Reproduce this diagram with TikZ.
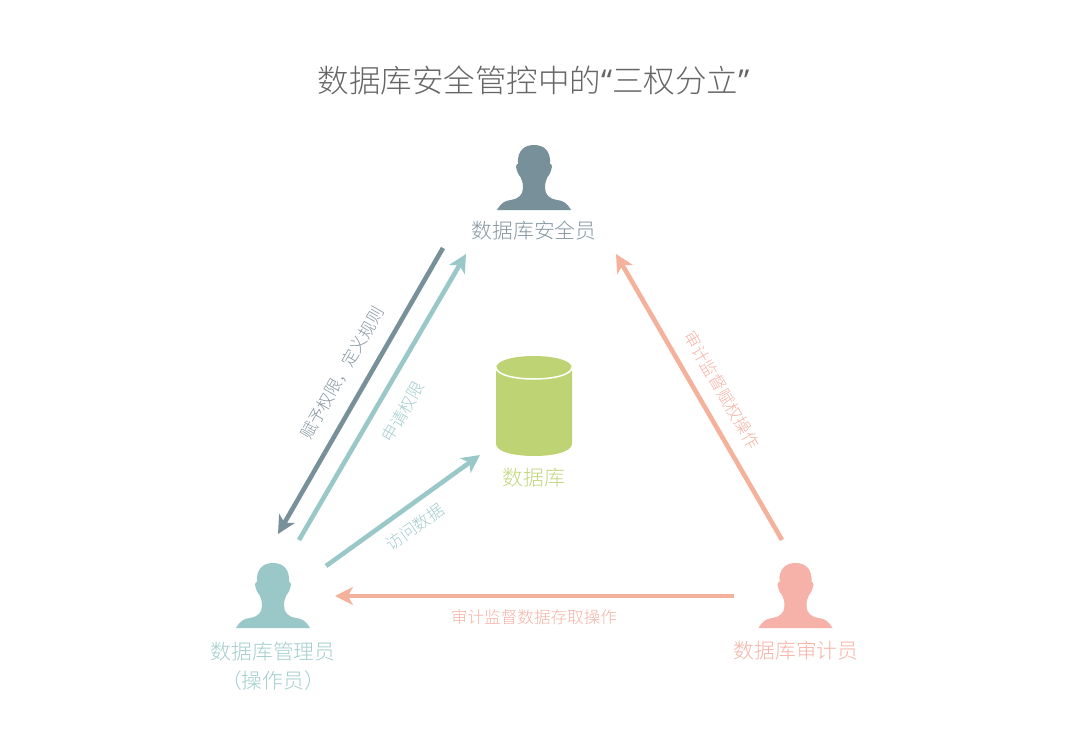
\documentclass[tikz,border=0pt]{standalone}
\usepackage{fontspec}
\setmainfont{Noto Sans CJK SC Light}
\newfontfamily\quotefont{Open Sans}
\usetikzlibrary{arrows.meta}
\definecolor{slate}{HTML}{78909A}
\definecolor{slatetext}{HTML}{8496A0}
\definecolor{teal}{HTML}{9AC8C8}
\definecolor{tealtext}{HTML}{A2CDCD}
\definecolor{salmon}{HTML}{F4B29C}
\definecolor{pinkperson}{HTML}{F6B2A9}
\definecolor{pinktext}{HTML}{F6B2A6}
\definecolor{dbgreen}{HTML}{BED374}
\definecolor{greentext}{HTML}{C2D67C}
\tikzset{
  x=1pt,y=-1pt,
  person/.pic={
    \fill[pic actions] (-37,65) .. controls (-33,58) and (-29,55.5) .. (-23,55)
      .. controls (-16,54) and (-11,50) .. (-11,43)
      .. controls (-11,38) and (-12,35) .. (-13.5,32)
      .. controls (-15.5,30) and (-17,27) .. (-18,21.5)
      .. controls (-18,19.5) and (-16.5,18.5) .. (-16,19)
      .. controls (-17,6) and (-10,0) .. (0,0)
      .. controls (10,0) and (17,6) .. (16,19)
      .. controls (16.5,18.5) and (18,19.5) .. (18,21.5)
      .. controls (17,27) and (15.5,30) .. (13.5,32)
      .. controls (12,35) and (11,38) .. (11,43)
      .. controls (11,50) and (16,54) .. (23,55)
      .. controls (29,55.5) and (33,58) .. (37,65) -- cycle;
  },
  namelabel/.style={font=\fontsize{20.8}{29}\selectfont,align=center},
  edgelabel/.style={font=\fontsize{16.6}{20}\selectfont},
  arrowline/.style={line width=4.6pt,-{Stealth[length=18pt,width=18pt,inset=5pt]}}
}
\begin{document}
\begin{tikzpicture}
\useasboundingbox (0,0) rectangle (1080,750);
\node[font=\fontsize{31.5}{36}\selectfont,text=black!60] (title) at (533.5,80) {数据库安全管控中的{\quotefont “}三权分立{\quotefont ”}};

\pic[fill=slate] at (534,145) {person};
\pic[fill=teal] at (273,563) {person};
\pic[fill=pinkperson] at (795.5,563) {person};
\node[namelabel,text=slatetext] (secadmin) at (534,231) {数据库安全员};
\node[namelabel,text=tealtext,anchor=north] (dbadmin) at (273,639) {数据库管理员\\\char"FF08 操作员\char"FF09};
\node[namelabel,text=pinktext] (auditor) at (796,651) {数据库审计员};

\fill[dbgreen] (496,368) .. controls (496,352) and (572,352) .. (572,368) -- (572,444)
  .. controls (572,460) and (496,460) .. (496,444) -- cycle;
\draw[white,line width=1.5pt] (496,367) .. controls (496,383) and (572,383) .. (572,367);
\node[namelabel,text=greentext] (database) at (534,478) {数据库};

\coordinate (grant start) at (443,248);
\coordinate (grant end) at (278,534);
\coordinate (apply start) at (299,540);
\coordinate (apply end) at (466,254);
\coordinate (access start) at (326,566);
\coordinate (access end) at (480,455);
\coordinate (audit start) at (782,540);
\coordinate (audit end) at (616,254);
\coordinate (monitor start) at (734,596);
\coordinate (monitor end) at (335,596);

\draw[arrowline,slate] (grant start)--(grant end);
\draw[arrowline,teal] (apply start)--(apply end);
\draw[arrowline,teal] (access start)--(access end);
\draw[arrowline,salmon] (audit start)--(audit end);
\draw[arrowline,salmon] (monitor start)--(monitor end);

\node[edgelabel,text=slatetext,rotate=60] (grantlabel) at (342,373) {赋予权限\char"FF0C 定义规则};
\node[edgelabel,text=tealtext,rotate=60] (applylabel) at (403,412) {申请权限};
\node[edgelabel,text=tealtext,rotate=36] (accesslabel) at (415,527) {访问数据};
\node[edgelabel,text=pinktext,rotate=-60] (auditlabel) at (722,390) {审计监督赋权操作};
\node[edgelabel,text=pinktext] (monitorlabel) at (534,617) {审计监督数据存取操作};
\end{tikzpicture}
\end{document}
